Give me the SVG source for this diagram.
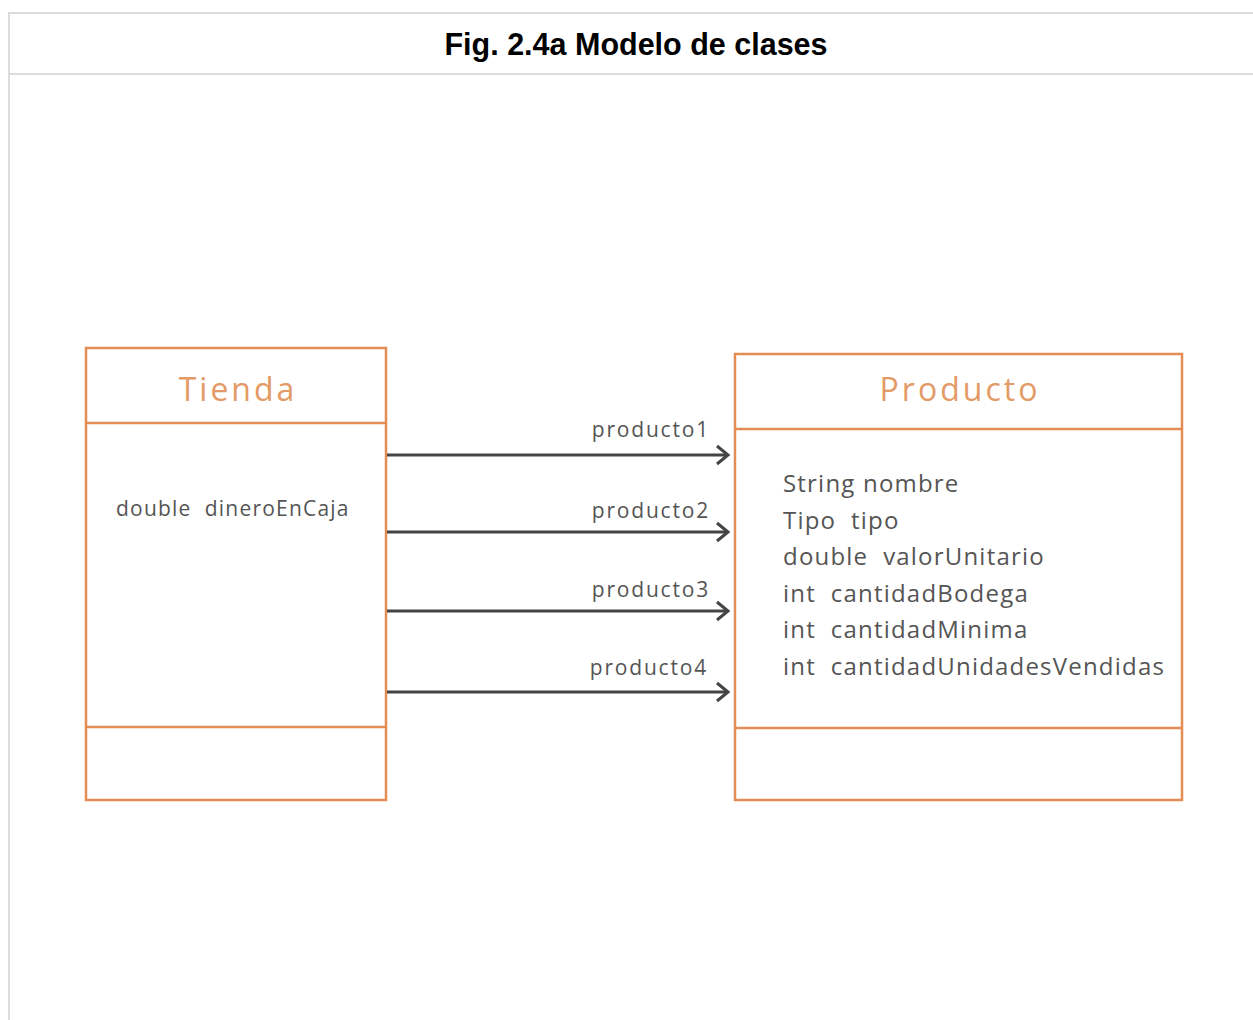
<svg xmlns="http://www.w3.org/2000/svg" width="1253" height="1020" viewBox="0 0 1253 1020">
<defs>
<style>
.frame{fill:none;stroke:#dcdcdc;stroke-width:2}
.box{fill:#fff;stroke:#e38d55;stroke-width:2.5}
.div{stroke:#e38d55;stroke-width:2.5}
.cname{font-family:"Open Sans",sans-serif;font-size:32px;fill:#e39a66;letter-spacing:3px;text-anchor:middle}
.attr{font-family:"Open Sans",sans-serif;fill:#555;white-space:pre}
.lbl{font-family:"Open Sans",sans-serif;font-size:21px;fill:#555;letter-spacing:1.8px;text-anchor:end}
.conn{stroke:#444;stroke-width:3;fill:none}
</style>
<marker id="arr" markerWidth="16" markerHeight="22" refX="13" refY="11" orient="auto" markerUnits="userSpaceOnUse">
<path d="M2,2 L13,11 L2,20" fill="none" stroke="#444" stroke-width="3"/>
</marker>
</defs>
<rect width="1253" height="1020" fill="#fff"/>
<g id="frame">
<path class="frame" d="M1253,13 H9 V1020"/>
<line class="frame" x1="9" y1="74" x2="1253" y2="74"/>
<text x="636" y="55" font-family="Liberation Sans, Arial, sans-serif" font-weight="bold" font-size="30.5" text-anchor="middle" fill="#000">Fig. 2.4a Modelo de clases</text>
</g>
<g id="tienda">
<rect class="box" x="86" y="348" width="300" height="452"/>
<line class="div" x1="86" y1="423" x2="386" y2="423"/>
<line class="div" x1="86" y1="727" x2="386" y2="727"/>
<text class="cname" x="238" y="401">Tienda</text>
<text class="attr" x="116" y="516" font-size="21" letter-spacing="1.2" xml:space="preserve">double  dineroEnCaja</text>
</g>
<g id="producto">
<rect class="box" x="735" y="354" width="447" height="446"/>
<line class="div" x1="735" y1="429" x2="1182" y2="429"/>
<line class="div" x1="735" y1="728" x2="1182" y2="728"/>
<text class="cname" x="960" y="401">Producto</text>
<g class="attr" font-size="24" letter-spacing="1.2">
<text x="783" y="492" xml:space="preserve">String nombre</text>
<text x="783" y="529" xml:space="preserve">Tipo  tipo</text>
<text x="783" y="565" xml:space="preserve">double  valorUnitario</text>
<text x="783" y="602" xml:space="preserve">int  cantidadBodega</text>
<text x="783" y="638" xml:space="preserve">int  cantidadMinima</text>
<text x="783" y="675" xml:space="preserve">int  cantidadUnidadesVendidas</text>
</g>
</g>
<g id="connectors">
<line class="conn" x1="387" y1="455" x2="728" y2="455" marker-end="url(#arr)"/>
<line class="conn" x1="387" y1="532" x2="728" y2="532" marker-end="url(#arr)"/>
<line class="conn" x1="387" y1="611" x2="728" y2="611" marker-end="url(#arr)"/>
<line class="conn" x1="387" y1="692" x2="728" y2="692" marker-end="url(#arr)"/>
<text class="lbl" x="710" y="437">producto1</text>
<text class="lbl" x="710" y="518">producto2</text>
<text class="lbl" x="710" y="597">producto3</text>
<text class="lbl" x="708" y="675">producto4</text>
</g>
</svg>
